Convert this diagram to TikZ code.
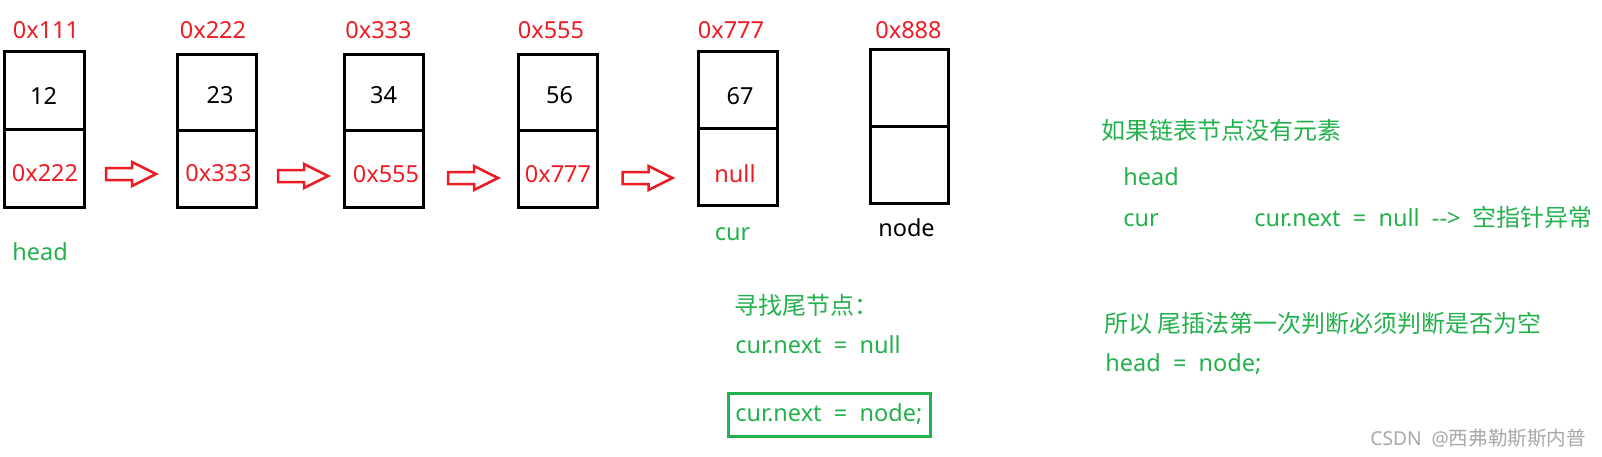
\documentclass[tikz,border=0pt]{standalone}
\usepackage{fontspec}
\setmainfont{Noto Sans}[WordSpace=2]
\newfontfamily\cjk{Noto Sans CJK SC}[Scale=1.02]
\usetikzlibrary{fit}
\definecolor{pred}{HTML}{ED1C24}
\definecolor{pgreen}{HTML}{22B14C}
\definecolor{wmgray}{HTML}{A8A8A8}
\newcommand\listbox[6]{%
  \node[cellbox, fit={(#2,#4) (#3,#5)}] (#1-t) {};
  \node[cellbox, fit={(#2,#5) (#3,#6)}] (#1-b) {};}
\begin{document}
\begin{tikzpicture}[x=0.5pt,y=-0.5pt,
  font=\fontsize{11.75}{14}\selectfont,
  cellbox/.style={draw=black, line width=1.5pt, inner sep=0pt},
  txt/.style={inner sep=0pt, anchor=center},
  addr/.style={txt, text=pred},
  val/.style={txt, text=black},
  gtxt/.style={inner sep=0pt, anchor=base west, text=pgreen},
  blockarrow/.pic={\draw[pred, line width=1.25pt, line join=miter]
     (0,-6) -- (26,-6) -- (26,-12) -- (50,0) -- (26,12) -- (26,6) -- (0,6) -- cycle;}]
\useasboundingbox (0,0) rectangle (1602,456);
\fill[white] (0,0) rectangle (1602,456);

% list boxes
\listbox{b1}{4.5}{84.5}{51.5}{129.5}{207}
\listbox{b2}{177.5}{256.5}{54}{130.5}{207.5}
\listbox{b3}{344.2}{423.5}{54}{130.7}{207.5}
\listbox{b4}{518.2}{597.5}{54}{130.7}{207.5}
\listbox{b5}{698.2}{777.5}{51.5}{128.3}{205.2}
\listbox{b6}{870.5}{948.5}{49.8}{126.7}{203.5}

% addresses above
\node[addr] (a1) at (46,30) {0x111};
\node[addr] (a2) at (213,30) {0x222};
\node[addr] (a3) at (378.5,30) {0x333};
\node[addr] (a4) at (551,30) {0x555};
\node[addr] (a5) at (731,30) {0x777};
\node[addr] (a6) at (908.5,30) {0x888};

% values
\node[val] (v1) at (43.5,95.5) {12};
\node[val] (v2) at (220,95.5) {23};
\node[val] (v3) at (383.5,95.5) {34};
\node[val] (v4) at (559.5,95.5) {56};
\node[val] (v5) at (740,96) {67};

% next pointers
\node[addr] (p1) at (45,173) {0x222};
\node[addr] (p2) at (218.5,173) {0x333};
\node[addr] (p3) at (386,174) {0x555};
\node[addr] (p4) at (558,174) {0x777};
\node[addr] (p5) at (735,173.5) {null};

% arrows
\pic (ar1) at (106,174) {blockarrow};
\pic (ar2) at (278,176) {blockarrow};
\pic (ar3) at (448,178) {blockarrow};
\pic (ar4) at (622.5,178) {blockarrow};

% labels under boxes
\node[txt, text=pgreen] (head) at (40,252) {head};
\node[txt, text=pgreen] (cur) at (732.5,234.5) {cur};
\node[txt, text=black] (nodelbl) at (906.5,228) {node};

% middle notes
\node[gtxt] (find) at (734,314) {\cjk 寻找尾节点：};
\node[gtxt] (cn1) at (735,353) {cur.next = null};
\node[draw=pgreen, line width=1.5pt, inner sep=0pt, fit={(728.5,393.5) (930.5,436.5)}] (gbox) {};
\node[gtxt] (cn2) at (735,421) {cur.next = node;};

% right notes
\node[gtxt] (r1) at (1101,139) {\cjk 如果链表节点没有元素};
\node[gtxt] (r2) at (1123,185) {head};
\node[gtxt] (r3) at (1123,226) {cur};
\node[gtxt] (r4) at (1254,226) {cur.next = null -{}-> {\cjk 空指针异常}};
\node[gtxt] (r5) at (1104,332) {\cjk 所以 尾插法第一次判断必须判断是否为空};
\node[gtxt] (r6) at (1105,371) {head = node;};

% watermark
\node[inner sep=0pt, anchor=base west, text=wmgray, font=\fontsize{9.6}{11}\selectfont] (wm) at (1370,445) {CSDN @{\cjk 西弗勒斯斯内普}};
\end{tikzpicture}
\end{document}
